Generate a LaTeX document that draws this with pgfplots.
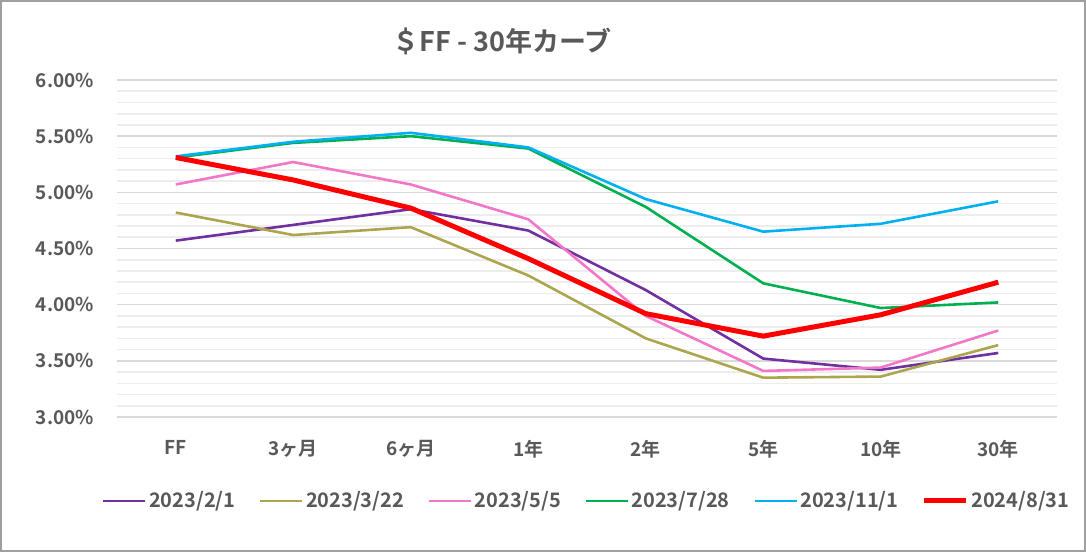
\documentclass[border=0pt]{standalone}
\usepackage{fontspec}
\setmainfont{Noto Sans CJK JP}[BoldFont={Noto Sans CJK JP Bold}]
\usepackage{pgfplots}
\pgfplotsset{compat=1.18}
\definecolor{txt}{HTML}{595959}
\definecolor{majgrid}{HTML}{D9D9D9}
\definecolor{mingrid}{HTML}{EDEDED}
\definecolor{cpurple}{HTML}{7030A0}
\definecolor{colive}{HTML}{ABA64E}
\definecolor{cpink}{HTML}{F277C8}
\definecolor{cgreen}{HTML}{00B050}
\definecolor{ccyan}{HTML}{00B0F0}
\definecolor{cred}{HTML}{FF0000}
\begin{document}
\begin{tikzpicture}
\path[use as bounding box] (0,0) rectangle (543pt,276pt);
\draw[color=gray!75, line width=0.8pt] (0.4pt,0.4pt) rectangle (542.6pt,275.6pt);
\begin{axis}[
  at={(58.5pt,67.5pt)}, anchor=south west,
  scale only axis, width=470pt, height=168.5pt,
  xmin=-0.5, xmax=7.5, ymin=3, ymax=6,
  /pgf/number format/assume math mode=true,
  xtick={0,...,7},
  xticklabels={FF,3ヶ月,6ヶ月,1年,2年,5年,10年,30年},
  ytick={3,3.5,4,4.5,5,5.5,6},
  minor y tick num=4,
  ymajorgrids, yminorgrids,
  major grid style={color=majgrid, line width=0.8pt},
  minor grid style={color=mingrid, line width=0.8pt},
  axis line style={draw=none},
  major tick length=0pt, minor tick length=0pt,
  yticklabel={\pgfmathprintnumber[fixed,fixed zerofill,precision=2,assume math mode=true]{\tick}\%},
  ticklabel style={font=\fontsize{9.5}{11}\selectfont\bfseries, text=txt},
  yticklabel style={xshift=-8pt},
  xticklabel style={yshift=-8pt},
  title={＄FF - 30年カーブ},
  title style={at={(0.41,1.08)}, anchor=center, font=\fontsize{13.5}{15}\selectfont\bfseries, text=txt},
  legend style={at={(0.5,-0.249)}, anchor=center, draw=none, fill=none,
    font=\fontsize{10}{12}\selectfont\bfseries, text=txt, legend columns=-1,
    nodes={inner xsep=1.2pt},
    /tikz/every even column/.append style={column sep=10.6pt}},
  legend image code/.code={\draw[#1] (0pt,0pt) -- (21pt,0pt);},
]
\addplot[cpurple, line width=1.3pt] coordinates {(0,4.57) (1,4.71) (2,4.85) (3,4.66) (4,4.13) (5,3.52) (6,3.42) (7,3.57)};
\addlegendentry{2023/2/1}
\addplot[colive, line width=1.3pt] coordinates {(0,4.82) (1,4.62) (2,4.69) (3,4.26) (4,3.70) (5,3.35) (6,3.36) (7,3.64)};
\addlegendentry{2023/3/22}
\addplot[cpink, line width=1.3pt] coordinates {(0,5.07) (1,5.27) (2,5.07) (3,4.76) (4,3.90) (5,3.41) (6,3.44) (7,3.77)};
\addlegendentry{2023/5/5}
\addplot[cgreen, line width=1.3pt] coordinates {(0,5.31) (1,5.44) (2,5.50) (3,5.39) (4,4.87) (5,4.19) (6,3.97) (7,4.02)};
\addlegendentry{2023/7/28}
\addplot[ccyan, line width=1.3pt] coordinates {(0,5.32) (1,5.45) (2,5.53) (3,5.40) (4,4.94) (5,4.65) (6,4.72) (7,4.92)};
\addlegendentry{2023/11/1}
\addplot[cred, line width=2.5pt] coordinates {(0,5.31) (1,5.11) (2,4.86) (3,4.41) (4,3.92) (5,3.72) (6,3.91) (7,4.20)};
\addlegendentry{2024/8/31}
\end{axis}
\end{tikzpicture}
\end{document}
